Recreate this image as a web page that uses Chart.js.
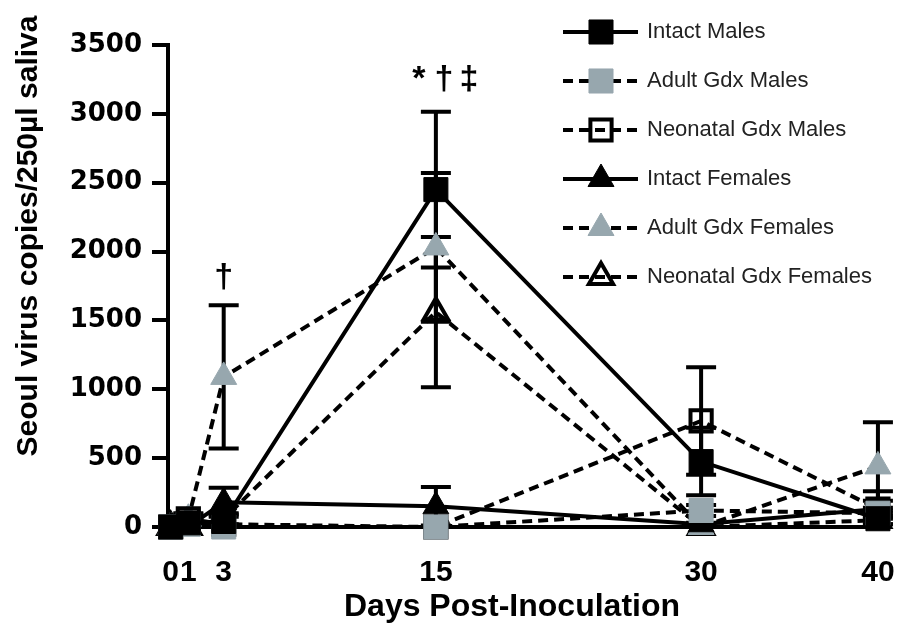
<!DOCTYPE html>
<html>
<head>
<meta charset="utf-8">
<script src="https://cdn.jsdelivr.net/npm/chart.js@4.4.1/dist/chart.umd.min.js"></script>
<style>
  html, body { margin: 0; padding: 0; background: #fff; }
</style>
</head>
<body>
<canvas id="virusChart" width="904" height="643"></canvas>
<script>
// Days post-inoculation (x positions)
const days = [0, 1, 3, 15, 30, 40];
const yTicks = [0, 500, 1000, 1500, 2000, 2500, 3000, 3500];

// Mean Seoul virus copies per group
const intactMales        = [0, 30, 40, 2450, 475, 60];
const adultGdxMales      = [0, 20, 0, 0, 120, 100];
const neonatalGdxMales   = [0, 60, 20, 0, 770, 130];
const intactFemales      = [0, 0, 180, 150, 20, 130];
const adultGdxFemales    = [0, 60, 1090, 2030, 0, 440];
const neonatalGdxFemales = [0, 0, 60, 1560, 0, 50];

// SEM for each group (drawn as error bars)
const intactMalesErr        = [0, 30, 50, 565, 245, 40];
const adultGdxMalesErr      = [0, 20, 0, 0, 40, 40];
const neonatalGdxMalesErr   = [0, 40, 0, 0, 390, 60];
const intactFemalesErr      = [0, 0, 105, 140, 10, 130];
const adultGdxFemalesErr    = [0, 30, 520, 540, 0, 320];
const neonatalGdxFemalesErr = [0, 0, 40, 545, 0, 30];

// significance marks: day, value they sit at, text
const marks = [
    { day: 3, value: 1810, text: '\u2020' },
    { day: 15, value: 3250, text: '*\u2020\u2021' }
];

const GRAY = '#97a7ae';
const DASH = [10, 6];

const groupErrors = [
    intactMalesErr, adultGdxMalesErr, neonatalGdxMalesErr,
    intactFemalesErr, adultGdxFemalesErr, neonatalGdxFemalesErr
];

function toPoints(values) {
    return days.map((d, i) => ({ x: d, y: values[i] }));
}

function makeSeries(label, values, opts) {
    return Object.assign({
        label: label,
        data: toPoints(values),
        borderColor: '#000',
        borderWidth: 4,
        borderDash: [],
        pointBorderColor: '#000',
        pointBorderWidth: 1,
        tension: 0,
        clip: false
    }, opts);
}

const datasets = [
    makeSeries('Intact Males', intactMales, { pointStyle: 'rect', pointRadius: 17, pointBackgroundColor: '#000' }),
    makeSeries('Adult Gdx Males', adultGdxMales, { borderDash: DASH, pointStyle: 'rect', pointRadius: 17, pointBackgroundColor: GRAY, pointBorderColor: GRAY }),
    makeSeries('Neonatal Gdx Males', neonatalGdxMales, { borderDash: DASH, pointStyle: 'rect', pointRadius: 15, pointBackgroundColor: 'rgba(255,255,255,0)', pointBorderWidth: 4 }),
    makeSeries('Intact Females', intactFemales, { pointStyle: 'triangle', pointRadius: 15, pointBackgroundColor: '#000' }),
    makeSeries('Adult Gdx Females', adultGdxFemales, { borderDash: DASH, pointStyle: 'triangle', pointRadius: 15, pointBackgroundColor: GRAY, pointBorderColor: GRAY }),
    makeSeries('Neonatal Gdx Females', neonatalGdxFemales, { borderDash: DASH, pointStyle: 'triangle', pointRadius: 14, pointBackgroundColor: 'rgba(255,255,255,0)', pointBorderWidth: 4 })
];

// Error bars, drawn under the markers
const errorBars = {
    id: 'errorBars',
    beforeDatasetsDraw(chart) {
        const { ctx, scales: { x, y } } = chart;
        ctx.save();
        ctx.strokeStyle = '#000';
        ctx.lineWidth = 4;
        chart.data.datasets.forEach((ds, i) => {
            const errs = groupErrors[i];
            ds.data.forEach((p, j) => {
                const e = errs[j];
                if (!e) return;
                const px = x.getPixelForValue(p.x);
                const top = y.getPixelForValue(p.y + e);
                const low = Math.max(p.y - e, 0);
                const bottom = y.getPixelForValue(low);
                ctx.beginPath();
                ctx.moveTo(px, top);
                ctx.lineTo(px, bottom);
                ctx.moveTo(px - 15, top);
                ctx.lineTo(px + 15, top);
                if (low > 0) {
                    ctx.moveTo(px - 15, bottom);
                    ctx.lineTo(px + 15, bottom);
                }
                ctx.stroke();
            });
        });
        ctx.restore();
    }
};

// Legend box top right, axis titles and the significance marks
const extras = {
    id: 'extras',
    afterDraw(chart) {
        const { ctx, scales: { x, y } } = chart;
        ctx.save();

        chart.data.datasets.forEach((ds, i) => {
            const cy = 32 + i * 49;
            ctx.strokeStyle = '#000';
            ctx.lineWidth = 4;
            ctx.setLineDash(ds.borderDash);
            ctx.beginPath();
            ctx.moveTo(563, cy);
            ctx.lineTo(638, cy);
            ctx.stroke();
            ctx.setLineDash([]);
            ctx.fillStyle = ds.pointBackgroundColor;
            ctx.strokeStyle = ds.pointBorderColor;
            ctx.lineWidth = ds.pointBorderWidth;
            Chart.helpers.drawPoint(ctx, {
                pointStyle: ds.pointStyle,
                radius: ds.pointRadius,
                rotation: 0,
                borderWidth: ds.pointBorderWidth
            }, 601, cy);
            ctx.fillStyle = '#222';
            ctx.font = '22px "Liberation Sans", Arial, sans-serif';
            ctx.textAlign = 'left';
            ctx.textBaseline = 'middle';
            ctx.fillText(ds.label, 647, cy);
        });

        // glyphs of a mark are spread out a little, as in the figure
        ctx.fillStyle = '#000';
        ctx.textAlign = 'center';
        ctx.textBaseline = 'middle';
        ctx.font = 'bold 34px "Liberation Sans", Arial, sans-serif';
        marks.forEach(m => {
            const chars = Array.from(m.text);
            const cx = x.getPixelForValue(m.day) + (chars.length > 1 ? 8 : 0);
            const cy = y.getPixelForValue(m.value);
            chars.forEach((c, k) => {
                ctx.fillText(c, cx + (k - (chars.length - 1) / 2) * 25, cy);
            });
        });

        ctx.font = 'bold 32px "Liberation Sans", Arial, sans-serif';
        ctx.fillText('Days Post-Inoculation', 512, 607);

        ctx.translate(29, 236);
        ctx.rotate(-Math.PI / 2);
        ctx.font = 'bold 30px "Liberation Sans", Arial, sans-serif';
        ctx.fillText('Seoul virus copies/250\u00b5l saliva', 0, 0);
        ctx.restore();
    }
};

new Chart(document.getElementById('virusChart'), {
    type: 'line',
    data: { datasets: datasets },
    plugins: [errorBars, extras],
    options: {
        responsive: false,
        animation: false,
        events: [],
        layout: { padding: { top: 45, right: 19, left: 0, bottom: 0 } },
        plugins: { legend: { display: false }, tooltip: { enabled: false } },
        scales: {
            x: {
                type: 'linear',
                min: -0.15,
                max: 40.4,
                afterFit(scale) {
                    scale.height = 116;
                    scale.paddingLeft = 0;
                    scale.paddingRight = 0;
                },
                afterBuildTicks(scale) { scale.ticks = days.map(d => ({ value: d })); },
                grid: { display: false },
                border: { display: true, color: '#000', width: 4 },
                ticks: {
                    color: '#000',
                    padding: 20,
                    maxRotation: 0,
                    autoSkip: false,
                    font: { family: '"Liberation Sans", Arial', weight: 'bold', size: 30 },
                    callback: v => String(v)
                }
            },
            y: {
                min: 0,
                max: 3500,
                afterFit(scale) { scale.width = 168; },
                afterBuildTicks(scale) { scale.ticks = yTicks.map(v => ({ value: v })); },
                grid: { drawOnChartArea: false, drawTicks: true, tickLength: 16, lineWidth: 4, color: '#000' },
                border: { color: '#000', width: 4 },
                ticks: {
                    color: '#000',
                    padding: 10,
                    font: { family: '"DejaVu Sans", sans-serif', weight: 'bold', size: 26 },
                    callback: v => String(v)
                }
            }
        }
    }
});
</script>
</body>
</html>
